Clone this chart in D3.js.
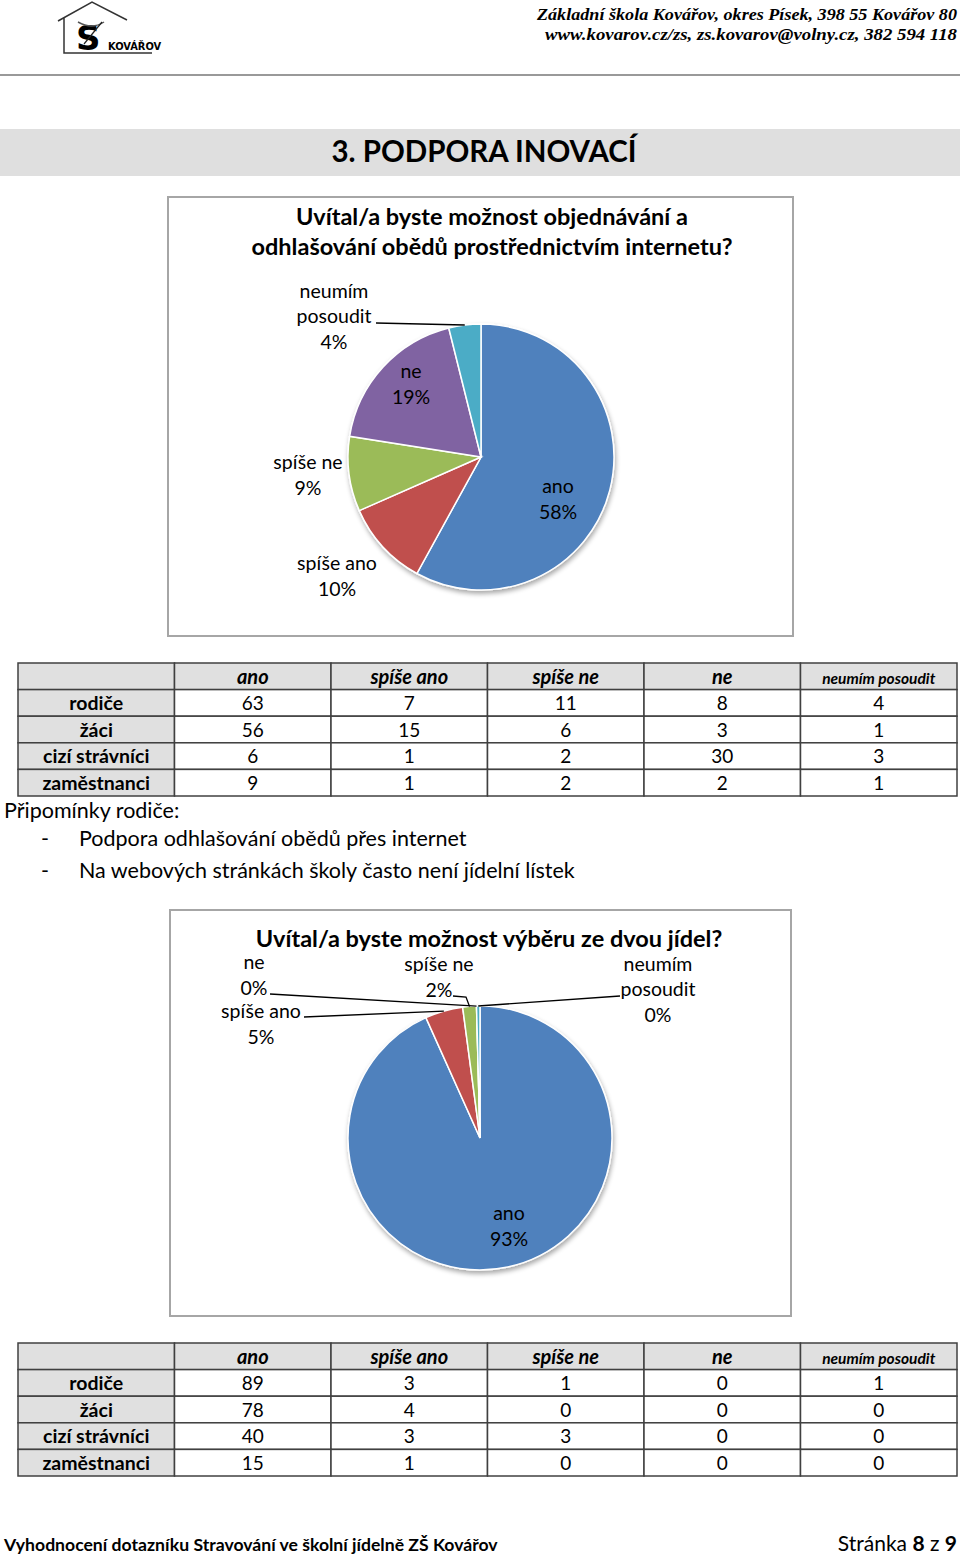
<!DOCTYPE html>
<html>
<head>
<meta charset="utf-8">
<script src="https://cdn.jsdelivr.net/npm/d3@7"></script>
<style>
  body { margin: 0; background: #fff; }
  svg text { font-family: Lato, "Open Sans", sans-serif; fill: #000; }
</style>
</head>
<body>
<script>
// answers (columns of the tables, slices of the pies)
var answers = ['ano', 'spíše ano', 'spíše ne', 'ne', 'neumím posoudit'];
var groups = ['rodiče', 'žáci', 'cizí strávníci', 'zaměstnanci'];

// question 1 - objednávání přes internet
var q1Title = ['Uvítal/a byste možnost objednávání a', 'odhlašování obědů prostřednictvím internetu?'];
var q1Rodice = [63, 7, 11, 8, 4];
var q1Zaci = [56, 15, 6, 3, 1];
var q1Cizi = [6, 1, 2, 30, 3];
var q1Zam = [9, 1, 2, 2, 1];

// question 2 - výběr ze dvou jídel
var q2Title = ['Uvítal/a byste  možnost výběru ze dvou jídel?'];
var q2Rodice = [89, 3, 1, 0, 1];
var q2Zaci = [78, 4, 0, 0, 0];
var q2Cizi = [40, 3, 3, 0, 0];
var q2Zam = [15, 1, 0, 0, 0];

var notesTitle = 'Připomínky rodiče:';
var notes = ['Podpora odhlašování obědů přes internet', 'Na webových stránkách školy často není jídelní lístek'];

var colors = ['#4F81BD', '#C0504D', '#9BBB59', '#8064A2', '#4BACC6'];

var width = 960, height = 1557;

var svg = d3.select('body').append('svg')
  .attr('width', width)
  .attr('height', height);

var defs = svg.append('defs');
var f = defs.append('filter').attr('id', 'shadow').attr('x', '-10%').attr('y', '-10%').attr('width', '130%').attr('height', '130%');
f.append('feGaussianBlur').attr('in', 'SourceAlpha').attr('stdDeviation', 2.5);
f.append('feOffset').attr('dx', 1).attr('dy', 3).attr('result', 'b');
f.append('feComponentTransfer').append('feFuncA').attr('type', 'linear').attr('slope', 0.35);
var fm = f.append('feMerge');
fm.append('feMergeNode');
fm.append('feMergeNode').attr('in', 'SourceGraphic');

// ---- header ----
var logo = svg.append('g');
logo.append('path')
  .attr('d', 'M58,21 L92,2 L127,20 M64,18 L64,53 L152,53')
  .attr('fill', 'none').attr('stroke', '#333').attr('stroke-width', 1.5);
logo.append('text').attr('x', 76).attr('y', 50)
  .style('font-family', '"DejaVu Sans", sans-serif').style('font-size', '34px').style('font-weight', 'bold')
  .text('S');
logo.append('path').attr('d', 'M78,22 Q92,30 104,22').attr('fill', 'none').attr('stroke', '#555').attr('stroke-width', 1.5);
logo.append('path').attr('d', 'M84,44 L102,22').attr('fill', 'none').attr('stroke', '#222').attr('stroke-width', 1.2);
logo.append('text').attr('x', 108).attr('y', 50)
  .style('font-size', '11px').style('font-weight', 'bold').style('font-family', '"Liberation Sans Narrow", "DejaVu Sans Condensed", sans-serif')
  .text('KOVÁŘOV');

var headerLines = ['Základní škola Kovářov, okres Písek, 398 55 Kovářov 80', 'www.kovarov.cz/zs, zs.kovarov@volny.cz, 382 594 118'];
svg.selectAll('.hdr').data(headerLines).enter().append('text')
  .attr('x', 957)
  .attr('y', function (d, i) { return 20 + i * 20; })
  .attr('text-anchor', 'end')
  .attr('textLength', function (d, i) { return i === 0 ? 420 : 412; })
  .attr('lengthAdjust', 'spacingAndGlyphs')
  .style('font-family', '"Liberation Serif", "DejaVu Serif", serif')
  .style('font-style', 'italic').style('font-weight', 'bold').style('font-size', '17px')
  .text(function (d) { return d; });

svg.append('line').attr('x1', 0).attr('x2', 960).attr('y1', 75).attr('y2', 75)
  .attr('stroke', '#777').attr('stroke-width', 1.5);

// section bar
svg.append('rect').attr('x', 0).attr('y', 129).attr('width', 960).attr('height', 47).attr('fill', '#dfdfdf');
svg.append('text').attr('x', 484).attr('y', 162).attr('text-anchor', 'middle')
  .style('font-size', '29.5px').style('font-weight', 'bold').text('3. PODPORA INOVACÍ');

// ---- pie helper ----
function sums(rows) {
  return answers.map(function (a, i) {
    return d3.sum(rows, function (r) { return r[i]; });
  });
}

function drawPie(cfg) {
  svg.append('rect')
    .attr('x', cfg.box[0]).attr('y', cfg.box[1]).attr('width', cfg.box[2]).attr('height', cfg.box[3])
    .attr('fill', '#fff').attr('stroke', '#a6a6a6').attr('stroke-width', 2);

  svg.selectAll(null).data(cfg.title).enter().append('text')
    .attr('x', cfg.titleX)
    .attr('y', function (d, i) { return cfg.titleY + i * 30; })
    .attr('text-anchor', 'middle')
    .style('font-size', cfg.titleSize).style('font-weight', 'bold')
    .text(function (d) { return d; });

  var total = d3.sum(cfg.values);
  var pie = d3.pie().sort(null).value(function (d) { return d; });
  var arcs = pie(cfg.values);
  var arc = d3.arc().innerRadius(0).outerRadius(cfg.r);

  var g = svg.append('g').attr('transform', 'translate(' + cfg.cx + ',' + cfg.cy + ')');
  g.append('g').attr('filter', 'url(#shadow)')
    .selectAll('path').data(arcs).enter().append('path')
    .attr('d', arc)
    .attr('fill', function (d, i) { return colors[i]; })
    .attr('stroke', '#fff').attr('stroke-width', 1.5);

  // labels
  arcs.forEach(function (a, i) {
    var lay = cfg.labels[i];
    var pct = Math.round(a.value / total * 100) + '%';
    var lines = lay.split ? ['neumím', 'posoudit', pct] : [answers[i], pct];
    var t = g.append('text')
      .attr('text-anchor', 'middle')
      .style('font-size', '19.5px');
    var y0 = lay.dy - (lines.length - 1) * 25.5 / 2;
    lines.forEach(function (l, k) {
      t.append('tspan').attr('x', lay.dx).attr('y', y0 + k * 25.5 + 6).text(l);
    });
    if (lay.leader) {
      var mid = (a.startAngle + a.endAngle) / 2;
      var px = Math.sin(mid) * cfg.r, py = -Math.cos(mid) * cfg.r;
      var pts = lay.leader.concat([[px, py]]);
      g.append('path')
        .attr('d', d3.line()(pts))
        .attr('fill', 'none').attr('stroke', '#000').attr('stroke-width', 1.3);
    }
  });
}

drawPie({
  box: [168, 197, 625, 439],
  title: q1Title, titleX: 492, titleY: 225, titleSize: '23.5px',
  values: sums([q1Rodice, q1Zaci, q1Cizi, q1Zam]),
  cx: 481, cy: 457, r: 133,
  labels: [
    { dx: 77, dy: 43 },
    { dx: -144, dy: 120 },
    { dx: -173, dy: 19 },
    { dx: -70, dy: -72 },
    { dx: -147, dy: -140, split: true, leader: [[-105, -134]] }
  ]
});

drawPie({
  box: [170, 910, 621, 406],
  title: q2Title, titleX: 489, titleY: 947, titleSize: '23.5px',
  values: sums([q2Rodice, q2Zaci, q2Cizi, q2Zam]),
  cx: 480, cy: 1138, r: 132,
  labels: [
    { dx: 29, dy: 89 },
    { dx: -219, dy: -113, leader: [[-176, -121]] },
    { dx: -41, dy: -160, leader: [[-27, -142], [-14, -141]] },
    { dx: -226, dy: -162, leader: [[-210, -144]] },
    { dx: 178, dy: -148, split: true, leader: [[140, -142]] }
  ]
});

// ---- tables ----
function drawTable(top, rows) {
  var cols = [''].concat(answers);
  var x = d3.scaleBand().domain(cols).range([18, 957]);
  var y = d3.scaleBand().domain(['head'].concat(groups)).range([top, top + 133]);
  var t = svg.append('g');

  // header row
  cols.forEach(function (c) {
    t.append('rect').attr('x', x(c)).attr('y', y('head')).attr('width', x.bandwidth()).attr('height', y.bandwidth())
      .attr('fill', '#e0e0e0').attr('stroke', '#404040').attr('stroke-width', 1.5);
    t.append('text').attr('x', x(c) + x.bandwidth() / 2).attr('y', y('head') + y.bandwidth() / 2 + 7.5)
      .attr('text-anchor', 'middle')
      .style('font-style', 'italic').style('font-weight', 'bold')
      .style('font-size', c === 'neumím posoudit' ? '15.5px' : '20px')
      .text(c);
  });

  groups.forEach(function (gname, r) {
    t.append('rect').attr('x', x('')).attr('y', y(gname)).attr('width', x.bandwidth()).attr('height', y.bandwidth())
      .attr('fill', '#e0e0e0').attr('stroke', '#404040').attr('stroke-width', 1.5);
    t.append('text').attr('x', x('') + x.bandwidth() / 2).attr('y', y(gname) + y.bandwidth() / 2 + 7)
      .attr('text-anchor', 'middle').style('font-weight', 'bold').style('font-size', '19.5px')
      .text(gname);
    rows[r].forEach(function (v, i) {
      var c = answers[i];
      t.append('rect').attr('x', x(c)).attr('y', y(gname)).attr('width', x.bandwidth()).attr('height', y.bandwidth())
        .attr('fill', '#fff').attr('stroke', '#404040').attr('stroke-width', 1.5);
      t.append('text').attr('x', x(c) + x.bandwidth() / 2).attr('y', y(gname) + y.bandwidth() / 2 + 7)
        .attr('text-anchor', 'middle').style('font-size', '19px')
        .text(v);
    });
  });
}

drawTable(663, [q1Rodice, q1Zaci, q1Cizi, q1Zam]);
drawTable(1343, [q2Rodice, q2Zaci, q2Cizi, q2Zam]);

// notes
svg.append('text').attr('x', 4).attr('y', 818).style('font-size', '21.5px').text(notesTitle);
notes.forEach(function (n, i) {
  svg.append('text').attr('x', 41).attr('y', 846 + i * 32).style('font-size', '21.5px').text('-');
  svg.append('text').attr('x', 79).attr('y', 846 + i * 32).style('font-size', '21.5px').text(n);
});

// footer
svg.append('text').attr('x', 4).attr('y', 1551).style('font-size', '17.6px').style('font-weight', 'bold')
  .text('Vyhodnocení dotazníku Stravování ve školní jídelně ZŠ Kovářov');
var pg = svg.append('text').attr('x', 957).attr('y', 1551).attr('text-anchor', 'end').style('font-size', '21px');
pg.append('tspan').text('Stránka ');
pg.append('tspan').style('font-weight', 'bold').text('8');
pg.append('tspan').text(' z ');
pg.append('tspan').style('font-weight', 'bold').text('9');
</script>
</body>
</html>
